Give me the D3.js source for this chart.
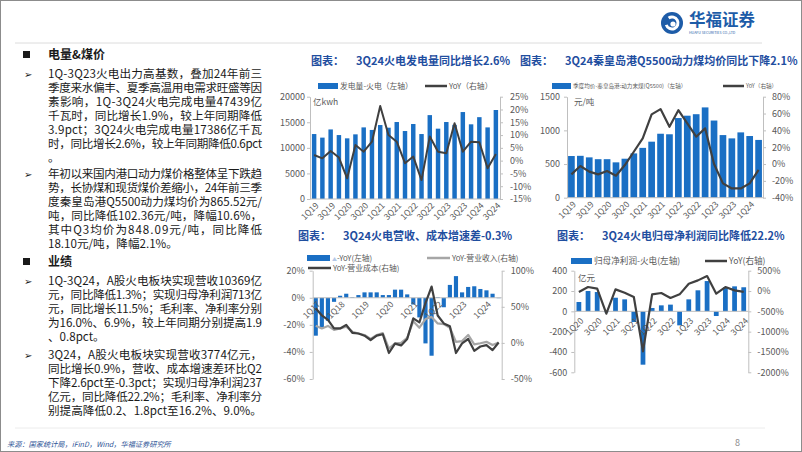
<!DOCTYPE html>
<html><head><meta charset="utf-8">
<script src="https://cdn.jsdelivr.net/npm/d3@7"></script>
<style>body{margin:0;background:#fff}svg{display:block}text{font-family:"Noto Sans CJK SC","Noto Sans",sans-serif}</style>
</head><body><svg id="s" width="802" height="452"></svg>
<script>
// ---------------- DATA ----------------
const c1Cats = ["1Q19","2Q19","3Q19","4Q19","1Q20","2Q20","3Q20","4Q20","1Q21","2Q21","3Q21","4Q21","1Q22","2Q22","3Q22","4Q22","1Q23","2Q23","3Q23","4Q23","1Q24","2Q24","3Q24"];
const c1Gen = [12700,12000,13600,12500,11860,12640,14000,13500,14460,13940,15050,13290,14660,12700,16400,13750,15050,14500,17000,14600,16000,14000,17400];
const c1YoY = [2.2,0.9,3.8,1.2,-6.9,6.1,3.5,7.4,21.4,10,7.4,-1,1.6,-7.6,9.4,3.5,2.9,14.6,3.5,7.4,7.2,-3,2.6];
const c1LeftTicks = [0,5000,10000,15000,20000];
const c1RightTicks = [-15,-10,-5,0,5,10,15,20,25];

const c2Cats = ["1Q19","2Q19","3Q19","4Q19","1Q20","2Q20","3Q20","4Q20","1Q21","2Q21","3Q21","4Q21","1Q22","2Q22","3Q22","4Q22","1Q23","2Q23","3Q23","4Q23","1Q24","2Q24"];
const c2Price = [619,622,599,572,572,525,579,658,740,832,950,942,1183,1218,1240,1341,1146,930,881,970,916,858];
const c2YoY = [-12.3,-2.4,-9,-12.3,-8.3,-13.9,-1.2,14.6,30.5,59,65.3,44.3,64,48.3,32.5,42.4,0,-23,-29,-29,-23,-7];
const c2LeftTicks = [0,500,1000,1500];
const c2RightTicks = [-40,-20,0,20,40,60,80];

const c3Cats = ["1Q17","2Q17","3Q17","4Q17","1Q18","2Q18","3Q18","4Q18","1Q19","2Q19","3Q19","4Q19","1Q20","2Q20","3Q20","4Q20","1Q21","2Q21","3Q21","4Q21","1Q22","2Q22","3Q22","4Q22","1Q23","2Q23","3Q23","4Q23","1Q24","2Q24","3Q24"];
const c3Diff = [-28,-21.8,-17,-3,1.5,3,0.5,2,4,4,4,2,2,6,6,2.5,-5,-14.5,-33.7,-42.8,0.5,-7,9.5,16,4,8,8.5,6.5,5.5,3,-0.3];
const c3Rev  = [23.8,20,23.5,18,20,22.5,15.5,13,11,5.5,11,13.5,-8,-0.5,0,7,30,21,33,36,27,26,21,1.5,2.5,11,-2,-0.5,1.5,-3,0.6];
const c3Cost = [47.9,38,32,20,20,25,14,13,10,4,10,12,-14,-1,-3.5,5.5,34,28.5,55,78,38,27,23,-14,-0.6,5.4,-11,-5,-3,-10,0.6];
const c3LeftTicks = [-60,-40,-20,0,20];
const c3RightTicks = [-50,0,50,100];

const c4Cats = ["1Q20","2Q20","3Q20","4Q20","1Q21","2Q21","3Q21","4Q21","1Q22","2Q22","3Q22","4Q22","1Q23","2Q23","3Q23","4Q23","1Q24","2Q24","3Q24"];
const c4Profit = [92,200,190,-8,134,118,-105,-525,33,59,66,-138,118,207,298,-46,236,246,237];
const c4YoY = [-25,98,57,-557,41,-41,-148,-1484,-82,-49,-172,-82,180,262,369,-66,98,16,-22.2];
const c4LeftTicks = [-600,-400,-200,0,200,400];
const c4RightTicks = [-2000,-1500,-1000,-500,0,500];

const para1 = ["1Q-3Q23火电出力高基数，叠加24年前三","季度来水偏丰、夏季高温用电需求旺盛等因","素影响，1Q-3Q24火电完成电量47439亿","千瓦时，同比增长1.9%，较上年同期降低","3.9pct；3Q24火电完成电量17386亿千瓦","时，同比增长2.6%，较上年同期降低0.6pct","。"];
const para2 = ["年初以来国内港口动力煤价格整体呈下跌趋","势，长协煤和现货煤价差缩小，24年前三季","度秦皇岛港Q5500动力煤均价为865.52元/","吨，同比降低102.36元/吨，降幅10.6%，","其中Q3均价为848.09元/吨，同比降低","18.10元/吨，降幅2.1%。"];
const para3 = ["1Q-3Q24，A股火电板块实现营收10369亿","元，同比降低1.3%；实现归母净利润713亿","元，同比增长11.5%；毛利率、净利率分别","为16.0%、6.9%，较上年同期分别提高1.9","、0.8pct。"];
const para4 = ["3Q24，A股火电板块实现营收3774亿元，","同比增长0.9%，营收、成本增速差环比Q2","下降2.6pct至-0.3pct；实现归母净利润237","亿元，同比降低22.2%；毛利率、净利率分","别提高降低0.2、1.8pct至16.2%、9.0%。"];

// ---------------- STYLE ----------------
const svg = d3.select("#s");
const BLUE="#1a6fc4", DARK="#404040", LIGHT="#a6a6a6", AXIS="#bfbfbf", LAB="#595959", TITLE="#1f4e9f", TXT="#1a1a1a";

svg.append("rect").attr("x",0.5).attr("y",0.5).attr("width",801).attr("height",451).attr("fill","#fff").attr("stroke","#8c8c8c");

// header
const logo = svg.append("g").attr("transform","translate(672,23)");
logo.append("circle").attr("r",11).attr("fill","#1d5ca8");
logo.append("path").attr("d",d3.arc()({innerRadius:4.5,outerRadius:7.5,startAngle:-0.6,endAngle:4.4})).attr("fill","#fff");
logo.append("circle").attr("r",2.6).attr("cx",1).attr("cy",1).attr("fill","#fff");
svg.append("text").attr("x",689).attr("y",26).attr("font-size",16.5).attr("font-weight","bold").attr("fill","#1d5ca8").attr("font-family",'"Noto Serif CJK SC","Noto Sans CJK SC",serif').text("华福证券");
svg.append("text").attr("x",689).attr("y",33.5).attr("font-size",3.6).attr("fill","#1d5ca8").text("HUAFU SECURITIES CO.,LTD");
svg.append("line").attr("x1",15).attr("x2",762).attr("y1",43).attr("y2",43).attr("stroke","#dcdcdc");
svg.append("line").attr("x1",15).attr("x2",765).attr("y1",428).attr("y2",428).attr("stroke","#ececec");
svg.append("text").attr("x",7).attr("y",447).attr("font-size",7.2).attr("font-style","italic").attr("fill","#2f5597").text("来源：国家统计局，iFinD，Wind，华福证券研究所");
svg.append("text").attr("x",735).attr("y",446).attr("font-size",9).attr("fill","#8c8c8c").text("8");

// ---------------- LEFT TEXT ----------------
const TX = 48, TR = 262, LH = 14;
function heading(y, t){
  svg.append("rect").attr("x",23).attr("y",y-4).attr("width",7).attr("height",7).attr("fill",TXT);
  svg.append("text").attr("x",TX).attr("y",y+4).attr("font-size",12).attr("font-weight","bold").attr("fill",TXT).text(t);
}
function para(y0, lines){
  svg.append("text").attr("x",24).attr("y",y0+4).attr("font-size",10).attr("fill",TXT).attr("font-family","DejaVu Sans").text("➢");
  lines.forEach((l,i)=>{
    const t = svg.append("text").attr("x",TX).attr("y",y0+i*LH+4).attr("font-size",11.6).attr("fill",TXT).text(l);
    if(i<lines.length-1) t.attr("textLength",TR-TX).attr("lengthAdjust","spacing");
  });
}
heading(55,"电量&煤价");
para(74,para1);
para(174,para2);
heading(262,"业绩");
para(281,para3);
para(355,para4);

// ---------------- HELPERS ----------------
function styleAxis(g, fs){
  g.select(".domain").attr("stroke",AXIS);
  g.selectAll(".tick line").attr("stroke",AXIS);
  g.selectAll(".tick text").attr("fill",LAB).attr("font-size",fs).attr("font-family",'"Noto Sans","Noto Sans CJK SC",sans-serif');
}
function leftAxis(scale, ticks, fmt, x, pad, fs){
  const g = svg.append("g").attr("transform",`translate(${x},0)`)
    .call(d3.axisLeft(scale).tickValues(ticks).tickFormat(fmt).tickSize(3).tickSizeOuter(0).tickPadding(pad));
  styleAxis(g, fs);
}
function rightAxis(scale, ticks, fmt, x, pad, fs){
  const g = svg.append("g").attr("transform",`translate(${x},0)`)
    .call(d3.axisRight(scale).tickValues(ticks).tickFormat(fmt).tickSize(3).tickSizeOuter(0).tickPadding(pad));
  styleAxis(g, fs);
}
function catLabels(xs, cats, every, y, dx, dy, fs){
  const g = svg.append("g");
  cats.forEach((c,i)=>{
    if(i%every) return;
    const x = xs(c)+xs.bandwidth()/2+dx;
    g.append("text").attr("transform",`translate(${x},${y+dy}) rotate(-45)`).attr("text-anchor","end")
      .attr("dy","0.35em").attr("font-size",fs).attr("fill",LAB).attr("font-family",'"Noto Sans",sans-serif').text(c);
  });
}
function title(x,y,a,b){
  const t = svg.append("text").attr("x",x).attr("y",y).attr("font-size",11).attr("font-weight","bold").attr("fill",TITLE);
  t.append("tspan").text(a);
  t.append("tspan").attr("dx",12).text(b);
}
function legRect(x,y,w,t,fs){
  svg.append("rect").attr("x",x).attr("y",y-3).attr("width",w).attr("height",6).attr("fill",BLUE);
  svg.append("text").attr("x",x+w+2).attr("y",y).attr("dy","0.35em").attr("font-size",fs).attr("fill",LAB).text(t);
}
function legLine(x,y,w,col,t,fs){
  svg.append("line").attr("x1",x).attr("x2",x+w).attr("y1",y).attr("y2",y).attr("stroke",col).attr("stroke-width",2.5);
  svg.append("text").attr("x",x+w+2).attr("y",y).attr("dy","0.35em").attr("font-size",fs).attr("fill",LAB).text(t);
}
function bars(xs, ys, cats, vals){
  svg.append("g").selectAll("rect").data(vals).join("rect")
    .attr("x",(d,i)=>xs(cats[i])).attr("width",xs.bandwidth())
    .attr("y",d=>Math.min(ys(d),ys(0))).attr("height",d=>Math.abs(ys(d)-ys(0))).attr("fill",BLUE);
}
function line(xs, ys, cats, vals, col, w){
  const l = d3.line().x((d,i)=>xs(cats[i])+xs.bandwidth()/2).y(d=>ys(d));
  svg.append("path").attr("d",l(vals)).attr("fill","none").attr("stroke",col).attr("stroke-width",w).attr("stroke-linejoin","round");
}
const pct = d=>d+"%";

// ---------------- CHART 1 ----------------
{
  const x0=310,x1=500,yT=96.7,yB=199;
  const xs = d3.scaleBand().domain(c1Cats).range([x0,x1]).paddingInner(0.46).paddingOuter(0.23);
  const yL = d3.scaleLinear().domain([0,20000]).range([yB,yT]);
  const yR = d3.scaleLinear().domain([-15,25]).range([yB,yT]);
  title(311,65,"图表：","3Q24火电发电量同比增长2.6%");
  legRect(318,86,20,"发电量-火电（左轴）",7.8);
  legLine(425,86,22,DARK,"YoY（右轴）",7.8);
  bars(xs,yL,c1Cats,c1Gen);
  leftAxis(yL,c1LeftTicks,d=>d,x0,2,9);
  rightAxis(yR,c1RightTicks,pct,x1,7,9);
  svg.append("line").attr("x1",x0).attr("x2",x1).attr("y1",yB).attr("y2",yB).attr("stroke",AXIS);
  line(xs,yR,c1Cats,c1YoY,DARK,2);
  catLabels(xs,c1Cats,2,yB,3,5,8.5);
  svg.append("text").attr("x",313).attr("y",105).attr("font-size",8.5).attr("fill",LAB).text("亿kwh");
}
// ---------------- CHART 2 ----------------
{
  const x0=567,x1=763,yT=96.7,yB=197.7;
  const xs = d3.scaleBand().domain(c2Cats).range([x0,x1]).paddingInner(0.25).paddingOuter(0.12);
  const yL = d3.scaleLinear().domain([0,1500]).range([yB,yT]);
  const yR = d3.scaleLinear().domain([-40,80]).range([yB,yT]);
  title(520,65,"图表：","3Q24秦皇岛港Q5500动力煤均价同比下降2.1%");
  legRect(552,86,19,"季度均价-秦皇岛港:动力末煤(Q5500)（左轴）",5.6);
  legLine(723,86,21,DARK,"YoY（右轴）",5.6);
  bars(xs,yL,c2Cats,c2Price);
  leftAxis(yL,c2LeftTicks,d=>d,x0,4,9);
  rightAxis(yR,c2RightTicks,pct,x1,6,9);
  svg.append("line").attr("x1",x0).attr("x2",x1).attr("y1",yB).attr("y2",yB).attr("stroke",AXIS);
  line(xs,yR,c2Cats,c2YoY,DARK,2.2);
  catLabels(xs,c2Cats,2,yB,3,5,8.5);
  svg.append("text").attr("x",574).attr("y",105).attr("font-size",8.5).attr("fill",LAB).text("元/吨");
}
// ---------------- CHART 3 ----------------
{
  const x0=312.7,x1=501.7,yT=270.7,yB=379;
  const xs = d3.scaleBand().domain(c3Cats).range([x0,x1]).paddingInner(0.32).paddingOuter(0.16);
  const yL = d3.scaleLinear().domain([-60,20]).range([yB,yT]);
  const yR = d3.scaleLinear().domain([-50,100]).range([yB,yT]);
  title(298,240,"图表：","3Q24火电营收、成本增速差-0.3%");
  svg.append("rect").attr("x",307).attr("y",255).attr("width",23).attr("height",6).attr("fill",BLUE);
  const lt = svg.append("text").attr("x",332).attr("y",258).attr("dy","0.35em").attr("font-size",7.8).attr("fill",LAB);
  lt.append("tspan").attr("fill","#b4c7e7").attr("font-size",5).text("▲");
  lt.append("tspan").text("-YoY(左轴)");
  legLine(427,258,23,LIGHT,"YoY-营业收入(右轴)",7.8);
  legLine(308,268,23,DARK,"YoY-营业成本(右轴)",7.8);
  bars(xs,yL,c3Cats,c3Diff);
  leftAxis(yL,c3LeftTicks,pct,x0,5,9);
  rightAxis(yR,c3RightTicks,pct,x1,6,9);
  svg.append("line").attr("x1",x0).attr("x2",x1).attr("y1",yL(0)).attr("y2",yL(0)).attr("stroke",AXIS);
  catLabels(xs,c3Cats,4,yL(0),3,5,8.5);
  line(xs,yR,c3Cats,c3Rev,LIGHT,2.2);
  line(xs,yR,c3Cats,c3Cost,DARK,2.2);
}
// ---------------- CHART 4 ----------------
{
  const x0=574.3,x1=748.3,yT=270.7,yB=372.3;
  const xs = d3.scaleBand().domain(c4Cats).range([x0,x1]).paddingInner(0.48).paddingOuter(0.24);
  const yL = d3.scaleLinear().domain([-600,400]).range([yB,yT]);
  const yR = d3.scaleLinear().domain([-2000,500]).range([yB,yT]);
  title(557,240,"图表：","3Q24火电归母净利润同比降低22.2%");
  legRect(571,261,21,"归母净利润-火电(左轴)",8.6);
  legLine(705,261,22,DARK,"YoY(右轴)",8.6);
  bars(xs,yL,c4Cats,c4Profit);
  leftAxis(yL,c4LeftTicks,d=>d,x0,4,9);
  rightAxis(yR,c4RightTicks,pct,x1,6,9);
  svg.append("line").attr("x1",x0).attr("x2",x1).attr("y1",yL(0)).attr("y2",yL(0)).attr("stroke",AXIS);
  catLabels(xs,c4Cats,2,yL(0),3,8,8.5);
  line(xs,yR,c4Cats,c4YoY,DARK,2.2);
  svg.append("text").attr("x",578).attr("y",281).attr("font-size",8.5).attr("fill",LAB).text("亿元");
}
</script></body></html>
